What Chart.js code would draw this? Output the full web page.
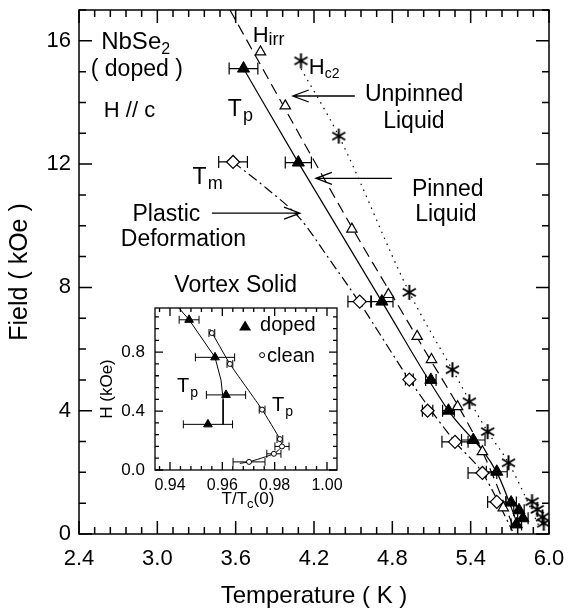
<!DOCTYPE html>
<html><head><meta charset="utf-8">
<script src="https://cdn.jsdelivr.net/npm/chart.js@4.4.1/dist/chart.umd.min.js"></script>
<style>
html,body{margin:0;padding:0;background:#fff;}
#wrap{position:relative;width:580px;height:615px;overflow:hidden;}
#main{position:absolute;left:0;top:0;}
#inset{position:absolute;left:95px;top:298px;}
</style></head><body>
<div id="wrap">
<canvas id="main" width="580" height="615"></canvas>
<canvas id="inset" width="250" height="215"></canvas>
</div>
<script>
// ---------------- DATA (main panel) ----------------
const xTickLabels = [2.4, 3.0, 3.6, 4.2, 4.8, 5.4, 6.0];
const yTickLabels = [0, 4, 8, 12, 16];

// T_p, doped (filled triangles)
const tpDopedT   = [3.66, 4.08, 4.72, 5.095, 5.23, 5.42, 5.60, 5.71, 5.77, 5.80, 5.75];
const tpDopedH   = [15.1, 12.05, 7.54, 5.0, 4.0, 3.05, 2.02, 1.02, 0.77, 0.51, 0.31];
const tpDopedErr = [0.11, 0.10, 0.085, 0.04, 0.045, 0.09, 0.08, 0.04, 0.04, 0.04, 0.04];

// H_irr (open triangles)
const hirrT = [3.79, 3.98, 4.49, 4.77, 4.99, 5.10, 5.30, 5.49, 5.65];
const hirrH = [15.64, 13.89, 9.89, 7.77, 6.41, 5.66, 4.13, 2.67, 0.85];

// H_c2 (stars)
const hc2T = [4.10, 4.39, 4.93, 5.26, 5.39, 5.53, 5.69, 5.87, 5.91, 5.95, 5.96];
const hc2H = [15.35, 12.91, 7.84, 5.33, 4.29, 3.32, 2.31, 1.05, 0.80, 0.55, 0.35];

// T_m (open diamonds)
const tmT   = [3.58, 4.55, 4.93, 5.07, 5.28, 5.49, 5.60];
const tmH   = [12.07, 7.54, 5.01, 4.0, 2.99, 1.98, 1.04];
const tmErr = [0.11, 0.09, 0.03, 0.04, 0.10, 0.11, 0.07];

// guide curves
const fitTpT  = [3.66, 4.08, 4.72, 5.23, 5.60, 5.77];
const fitTpH  = [15.1, 12.05, 7.54, 4.0, 2.0, 0.2];
const fitIrrT = [3.556, 4.49, 5.0, 5.49, 5.74];
const fitIrrH = [17.0, 9.95, 6.3, 2.67, 0.1];
const fitHc2T = [4.10, 4.39, 4.93, 5.26, 5.53, 5.69, 5.93];
const fitHc2H = [15.1, 12.91, 7.84, 5.33, 3.32, 2.31, 0.2];
const fitTmT  = [3.58, 3.84, 4.09, 4.32, 4.55, 4.93, 5.28, 5.49, 5.72];
const fitTmH  = [12.07, 11.2, 10.25, 8.9, 7.5, 5.01, 2.99, 1.98, 0.1];

// ---------------- DATA (inset) ----------------
const insXTicks = [0.94, 0.96, 0.98, 1.00];
const insYTicks = [0.0, 0.4, 0.8];
const insDopT   = [0.9473, 0.9572, 0.9614, 0.9545];
const insDopH   = [1.02, 0.765, 0.51, 0.31];
const insDopErr = [0.0038, 0.0075, 0.0075, 0.0094];
const insCleanT   = [0.956, 0.9629, 0.9752, 0.982, 0.9828, 0.9797, 0.9702];
const insCleanH   = [0.93, 0.72, 0.41, 0.21, 0.16, 0.11, 0.055];
const insCleanErr = [0.0011, 0.0011, 0.0011, 0.0011, 0.0027, 0.0027, 0.0061];
const insFitDopT   = [0.9434, 0.9473, 0.9572, 0.9595, 0.9603, 0.9603];
const insFitDopH   = [1.1, 1.02, 0.765, 0.61, 0.48, 0.31];
const insFitCleanT = [0.9553, 0.9629, 0.9752, 0.982, 0.9828, 0.9797, 0.9702, 0.9667];
const insFitCleanH = [0.956, 0.72, 0.41, 0.21, 0.16, 0.11, 0.055, 0.045];

// ---------------- helpers ----------------
const FONT = '"Liberation Sans", Arial, Helvetica, sans-serif';
const zip = (a, b) => a.map((v, i) => ({x: v, y: b[i]}));
const noPad = s => { s.paddingTop = 0; s.paddingBottom = 0; s.paddingLeft = 0; s.paddingRight = 0; };

function makeStar(r, lw) {
  const s = Math.ceil(2 * r + lw + 2);
  const c = document.createElement('canvas'); c.width = s; c.height = s;
  const g = c.getContext('2d');
  g.strokeStyle = '#000'; g.lineWidth = lw;
  const cx = s / 2, cy = s / 2;
  g.beginPath();
  for (let k = 0; k < 3; k++) {
    const a = Math.PI / 2 + k * Math.PI / 3;
    g.moveTo(cx + r * Math.cos(a), cy + r * Math.sin(a));
    g.lineTo(cx - r * Math.cos(a), cy - r * Math.sin(a));
  }
  g.stroke();
  return c;
}

function drawParts(ctx, parts, x, y) {
  let cx = x;
  for (const p of parts) {
    ctx.font = p[1] + 'px ' + FONT;
    ctx.fillText(p[0], cx, y + (p[2] || 0));
    cx += ctx.measureText(p[0]).width + (p[3] || 0);
  }
}

function drawErrBars(chart, cap, lw) {
  const ctx = chart.ctx, xs = chart.scales.x, ys = chart.scales.y;
  ctx.save();
  ctx.strokeStyle = '#000'; ctx.lineWidth = lw;
  chart.data.datasets.forEach(ds => {
    if (!ds.errX) return;
    ds.data.forEach((p, i) => {
      const e = ds.errX[i];
      const x1 = xs.getPixelForValue(p.x - e), x2 = xs.getPixelForValue(p.x + e);
      const py = ys.getPixelForValue(p.y);
      ctx.beginPath();
      ctx.moveTo(x1, py); ctx.lineTo(x2, py);
      ctx.moveTo(x1, py - cap); ctx.lineTo(x1, py + cap);
      ctx.moveTo(x2, py - cap); ctx.lineTo(x2, py + cap);
      ctx.stroke();
    });
  });
  ctx.restore();
}

function isMajor(v, step) { const q = v / step; return Math.abs(q - Math.round(q)) < 1e-6; }

function drawFrameTicks(chart, xMin, xMax, xStep, xMaj, yMin, yMax, yStep, yMaj, majL, minL, lw) {
  const ctx = chart.ctx, a = chart.chartArea, xs = chart.scales.x, ys = chart.scales.y;
  ctx.save();
  ctx.strokeStyle = '#000';
  ctx.lineWidth = lw;
  ctx.strokeRect(a.left, a.top, a.right - a.left, a.bottom - a.top);
  ctx.beginPath();
  const nx = Math.round((xMax - xMin) / xStep);
  for (let i = 0; i <= nx; i++) {
    const v = xMin + i * xStep;
    const px = xs.getPixelForValue(v);
    const L = isMajor(v, xMaj) ? majL : minL;
    ctx.moveTo(px, a.bottom); ctx.lineTo(px, a.bottom - L);
    ctx.moveTo(px, a.top); ctx.lineTo(px, a.top + L);
  }
  const ny = Math.round((yMax - yMin) / yStep);
  for (let i = 0; i <= ny; i++) {
    const v = yMin + i * yStep;
    const py = ys.getPixelForValue(v);
    const L = isMajor(v, yMaj) ? majL : minL;
    ctx.moveTo(a.left, py); ctx.lineTo(a.left + L, py);
    ctx.moveTo(a.right, py); ctx.lineTo(a.right - L, py);
  }
  ctx.stroke();
  ctx.restore();
}

// ---------------- main annotations ----------------
const mainNotes = [
  {parts: [['NbSe', 24], ['2', 16, 5]], at: [2.57, 15.74]},
  {parts: [['( doped )', 23]], at: [2.49, 14.86]},
  {parts: [['H // c', 22]], at: [2.59, 13.53]},
  {parts: [['H', 22], ['irr', 18, 3]], at: [3.73, 15.97]},
  {parts: [['H', 22], ['c2', 14, 4]], at: [4.16, 14.93]},
  {parts: [['T', 23, 0, 1], ['p', 18, 5]], at: [3.54, 13.56]},
  {parts: [['T', 23, 0, 1], ['m', 18, 5]], at: [3.27, 11.35]},
  {parts: [['Plastic', 23]], at: [2.81, 10.15]},
  {parts: [['Deformation', 23]], at: [2.72, 9.35]},
  {parts: [['Unpinned', 23]], at: [4.59, 14.05]},
  {parts: [['Liquid', 23]], at: [4.73, 13.17]},
  {parts: [['Pinned', 23]], at: [4.95, 10.98]},
  {parts: [['Liquid', 23]], at: [4.975, 10.15]},
  {parts: [['Vortex Solid', 23]], at: [3.13, 7.86]},
];
const mainArrows = [
  {from: [4.513, 14.21], to: [4.038, 14.21]},
  {from: [4.797, 11.54], to: [4.215, 11.54]},
  {from: [3.418, 10.41], to: [4.092, 10.41]},
];

const mainPlugin = {
  id: 'mainDecor',
  beforeDatasetsDraw(chart) { drawErrBars(chart, 6, 1.2); },
  afterDatasetsDraw(chart) {
    const ctx = chart.ctx, xs = chart.scales.x, ys = chart.scales.y;
    drawFrameTicks(chart, 2.4, 6.0, 0.12, 0.6, 0, 17, 1, 4, 13, 7, 1.5);
    ctx.save();
    ctx.fillStyle = '#000'; ctx.strokeStyle = '#000';
    ctx.textBaseline = 'alphabetic'; ctx.textAlign = 'left';
    mainNotes.forEach(n => drawParts(ctx, n.parts, xs.getPixelForValue(n.at[0]), ys.getPixelForValue(n.at[1])));
    ctx.lineWidth = 1.3;
    mainArrows.forEach(ar => {
      const x1 = xs.getPixelForValue(ar.from[0]), y1 = ys.getPixelForValue(ar.from[1]);
      const x2 = xs.getPixelForValue(ar.to[0]), y2 = ys.getPixelForValue(ar.to[1]);
      const ang = Math.atan2(y2 - y1, x2 - x1), L = 17, W = 0.36;
      ctx.beginPath();
      ctx.moveTo(x1, y1); ctx.lineTo(x2, y2);
      ctx.moveTo(x2 - L * Math.cos(ang - W), y2 - L * Math.sin(ang - W));
      ctx.lineTo(x2, y2);
      ctx.lineTo(x2 - L * Math.cos(ang + W), y2 - L * Math.sin(ang + W));
      ctx.stroke();
    });
    ctx.restore();
  }
};

const lineDs = (label, xs, ys, dash) => ({
  label, data: zip(xs, ys), showLine: true, borderColor: '#000', borderWidth: 1.2,
  borderDash: dash, pointRadius: 0, fill: false, cubicInterpolationMode: 'monotone'
});

const starImg = makeStar(7.5, 2);

new Chart(document.getElementById('main'), {
  type: 'scatter',
  data: {datasets: [
    {label: 'Tp (doped)', data: zip(tpDopedT, tpDopedH), errX: tpDopedErr, pointStyle: 'triangle', pointRadius: 7,
     backgroundColor: '#000', borderColor: '#000', borderWidth: 1},
    {label: 'Hc2', data: zip(hc2T, hc2H), pointStyle: starImg, pointRadius: 8, borderColor: '#000', backgroundColor: '#000'},
    {label: 'Hirr', data: zip(hirrT, hirrH), pointStyle: 'triangle', pointRadius: 6, backgroundColor: '#fff', borderColor: '#000', borderWidth: 1.2},
    {label: 'Tm', data: zip(tmT, tmH), errX: tmErr, pointStyle: 'rectRot', pointRadius: 6.5, backgroundColor: '#fff', borderColor: '#000', borderWidth: 1.2},
    lineDs('Tp fit', fitTpT, fitTpH, []),
    lineDs('Hirr fit', fitIrrT, fitIrrH, [11, 6]),
    lineDs('Hc2 fit', fitHc2T, fitHc2H, [1.5, 5]),
    lineDs('Tm fit', fitTmT, fitTmH, [10, 4, 2, 4]),
  ]},
  options: {
    responsive: false, animation: false, events: [],
    layout: {padding: {top: 10, right: 31, left: 0, bottom: 0}},
    plugins: {legend: {display: false}, tooltip: {enabled: false}},
    scales: {
      x: {
        type: 'linear', min: 2.4, max: 6.0,
        afterBuildTicks: s => { s.ticks = xTickLabels.map(v => ({value: v})); },
        afterFit: s => { s.height = 81; noPad(s); },
        grid: {display: false, drawTicks: false}, border: {display: false},
        ticks: {color: '#000', font: {size: 22, family: FONT}, padding: 12, maxRotation: 0, autoSkip: false,
                callback: v => Number(v).toFixed(1)},
        title: {display: true, text: 'Temperature ( K )', color: '#000', font: {size: 24, family: FONT}, padding: {top: 0, bottom: 4}}
      },
      y: {
        type: 'linear', min: 0, max: 17,
        afterBuildTicks: s => { s.ticks = yTickLabels.map(v => ({value: v})); },
        afterFit: s => { s.width = 79; noPad(s); },
        grid: {display: false, drawTicks: false}, border: {display: false},
        ticks: {color: '#000', font: {size: 22, family: FONT}, padding: 8, autoSkip: false,
                callback: v => String(v)},
        title: {display: true, text: 'Field ( kOe )', color: '#000', font: {size: 25, family: FONT}, padding: {top: 5, bottom: 0}}
      }
    }
  },
  plugins: [mainPlugin]
});

// ---------------- inset ----------------
const insetPlugin = {
  id: 'insetDecor',
  beforeDatasetsDraw(chart) {
    const a = chart.chartArea, ctx = chart.ctx;
    ctx.save(); ctx.fillStyle = '#fff'; ctx.fillRect(a.left, a.top, a.right - a.left, a.bottom - a.top); ctx.restore();
    drawErrBars(chart, 4, 1);
  },
  afterDatasetsDraw(chart) {
    const ctx = chart.ctx, xs = chart.scales.x, ys = chart.scales.y, a = chart.chartArea;
    drawFrameTicks(chart, 0.936, 1.0, 0.004, 0.02, 0, 1.04, 0.08, 0.4, 8, 4, 1.3);
    ctx.save();
    ctx.fillStyle = '#000'; ctx.strokeStyle = '#000'; ctx.textAlign = 'left'; ctx.textBaseline = 'alphabetic';
    // legend
    const lx1 = xs.getPixelForValue(0.9687), ly1 = ys.getPixelForValue(0.975);
    ctx.beginPath(); ctx.moveTo(lx1, ly1 - 6); ctx.lineTo(lx1 + 6, ly1 + 4); ctx.lineTo(lx1 - 6, ly1 + 4); ctx.closePath(); ctx.fill();
    drawParts(ctx, [['doped', 20]], xs.getPixelForValue(0.9744), ys.getPixelForValue(0.945));
    const lx2 = xs.getPixelForValue(0.9752), ly2 = ys.getPixelForValue(0.78);
    ctx.lineWidth = 1; ctx.beginPath(); ctx.arc(lx2, ly2, 2.5, 0, Math.PI * 2); ctx.stroke();
    drawParts(ctx, [['clean', 20]], xs.getPixelForValue(0.9771), ys.getPixelForValue(0.73));
    drawParts(ctx, [['T', 20, 0, 1], ['p', 14, 5]], xs.getPixelForValue(0.9427), ys.getPixelForValue(0.53));
    drawParts(ctx, [['T', 20, 0, 1], ['p', 14, 5]], xs.getPixelForValue(0.979), ys.getPixelForValue(0.40));
    // x title with subscript
    const parts = [['T/T', 17], ['c', 13, 4], ['(0)', 17]];
    let w = 0; parts.forEach(p => { ctx.font = p[1] + 'px ' + FONT; w += ctx.measureText(p[0]).width; });
    drawParts(ctx, parts, (a.left + a.right) / 2 - w / 2 + 2, chart.height - 9);
    ctx.restore();
  }
};

new Chart(document.getElementById('inset'), {
  type: 'scatter',
  data: {datasets: [
    {label: 'doped', data: zip(insDopT, insDopH), errX: insDopErr, pointStyle: 'triangle', pointRadius: 5,
     backgroundColor: '#000', borderColor: '#000', borderWidth: 1},
    {label: 'clean', data: zip(insCleanT, insCleanH), errX: insCleanErr, pointStyle: 'circle', pointRadius: 2.5,
     backgroundColor: '#fff', borderColor: '#000', borderWidth: 1},
    {label: 'doped fit', data: zip(insFitDopT, insFitDopH), showLine: true, borderColor: '#000', borderWidth: 1, pointRadius: 0, tension: 0},
    {label: 'clean fit', data: zip(insFitCleanT, insFitCleanH), showLine: true, borderColor: '#000', borderWidth: 1, pointRadius: 0, tension: 0.15},
  ]},
  options: {
    responsive: false, animation: false, events: [],
    layout: {padding: {top: 10, right: 8, left: 0, bottom: 0}},
    plugins: {legend: {display: false}, tooltip: {enabled: false}},
    scales: {
      x: {
        type: 'linear', min: 0.93427, max: 1.00382,
        afterBuildTicks: s => { s.ticks = insXTicks.map(v => ({value: v})); },
        afterFit: s => { s.height = 43; noPad(s); },
        grid: {display: false, drawTicks: false}, border: {display: false},
        ticks: {color: '#000', font: {size: 16, family: FONT}, padding: 6, maxRotation: 0, autoSkip: false,
                callback: v => Number(v).toFixed(2)},
        title: {display: false}
      },
      y: {
        type: 'linear', min: 0, max: 1.1,
        afterBuildTicks: s => { s.ticks = insYTicks.map(v => ({value: v})); },
        afterFit: s => { s.width = 60; noPad(s); },
        grid: {display: false, drawTicks: false}, border: {display: false},
        ticks: {color: '#000', font: {size: 17, family: FONT}, padding: 10, autoSkip: false,
                callback: v => Number(v).toFixed(1)},
        title: {display: true, text: 'H (kOe)', color: '#000', font: {size: 17, family: FONT}, padding: {top: 2, bottom: 0}}
      }
    }
  },
  plugins: [insetPlugin]
});
</script>
</body></html>
